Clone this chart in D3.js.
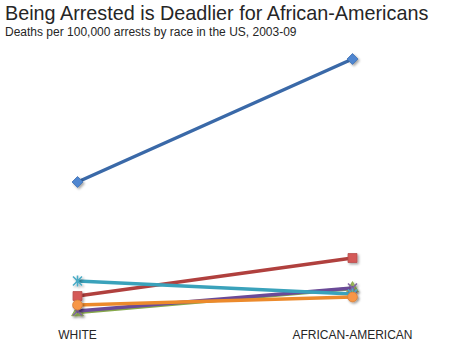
<!DOCTYPE html>
<html>
<head>
<meta charset="utf-8">
<script src="https://cdn.jsdelivr.net/npm/d3@7"></script>
<style>
  body { margin: 0; background: #fff; }
  text { font-family: "Liberation Sans", Arial, sans-serif; fill: #262626; }
</style>
</head>
<body>
<div id="chart"></div>
<script>
// categories and series (deaths per 100,000 arrests)
var categories = ["WHITE", "AFRICAN-AMERICAN"];
var seriesNames = ["Series 1", "Series 2", "Series 3", "Series 4", "Series 5", "Series 6"];
var seriesValues = [
    [6.9, 13.05],
    [1.2, 3.1],
    [0.38, 1.58],
    [0.45, 1.6],
    [1.95, 1.3],
    [0.75, 1.15]
];
var lineColors = ["#3a69a8", "#b0403e", "#86a84a", "#6a4a98", "#3aa2bb", "#ec8a2c"];
var markerColors = ["#4f86d0", "#d45a58", "#9bbb59", "#8064a2", "#4bacc6", "#f79646"];
var markerShapes = ["diamond", "square", "triangle", "x", "star", "circle"];

var width = 451, height = 354;

var svg = d3.select("#chart").append("svg")
    .attr("width", width)
    .attr("height", height);

// soft drop shadow for the markers
var filter = svg.append("defs").append("filter")
    .attr("id", "shadow")
    .attr("x", "-50%").attr("y", "-50%")
    .attr("width", "200%").attr("height", "200%");
filter.append("feDropShadow")
    .attr("dx", 1.5).attr("dy", 1.5)
    .attr("stdDeviation", 1)
    .attr("flood-color", "#000")
    .attr("flood-opacity", 0.35);

svg.append("text")
    .attr("x", 5).attr("y", 20)
    .style("font-size", "19.8px")
    .text("Being Arrested is Deadlier for African-Americans");

svg.append("text")
    .attr("x", 5).attr("y", 36)
    .style("font-size", "12px")
    .text("Deaths per 100,000 arrests by race in the US, 2003-09");

var x = d3.scalePoint().domain(categories).range([77.5, 352.5]);
var y = d3.scaleLinear().domain([0, 14]).range([320, 40]);

var line = d3.line()
    .x(function(d, i) { return x(categories[i]); })
    .y(function(d) { return y(d); });

var symbolTypes = {
    diamond: d3.symbolSquare,
    square: d3.symbolSquare,
    triangle: d3.symbolTriangle,
    circle: d3.symbolCircle
};

seriesValues.forEach(function(vals, s) {
    var g = svg.append("g").attr("class", "series");

    g.append("path")
        .datum(vals)
        .attr("d", line)
        .attr("fill", "none")
        .attr("stroke", lineColors[s])
        .attr("stroke-width", 3.5)
        .attr("stroke-linecap", "round");

    var m = g.selectAll(".marker")
        .data(vals)
        .enter().append("g")
        .attr("class", "marker")
        .attr("filter", "url(#shadow)")
        .attr("transform", function(d, i) {
            return "translate(" + x(categories[i]) + "," + y(d) + ")";
        });

    var shape = markerShapes[s];
    if (shape === "x" || shape === "star") {
        var r = 4.5;
        var segs = [[-r, -r, r, r], [-r, r, r, -r]];
        if (shape === "star") segs.push([0, -r - 1, 0, r + 1]);
        segs.forEach(function(sg) {
            m.append("line")
                .attr("x1", sg[0]).attr("y1", sg[1])
                .attr("x2", sg[2]).attr("y2", sg[3])
                .attr("stroke", markerColors[s])
                .attr("stroke-width", 1.6);
        });
    } else {
        var size = { diamond: 60, square: 80, triangle: 60, circle: 75 }[shape];
        m.append("path")
            .attr("d", d3.symbol().type(symbolTypes[shape]).size(size))
            .attr("transform", shape === "diamond" ? "rotate(45)" : null)
            .attr("fill", markerColors[s])
            .attr("stroke", d3.color(markerColors[s]).darker(0.4))
            .attr("stroke-width", 0.8);
    }
});

// category labels
svg.selectAll(".cat-label")
    .data(categories)
    .enter().append("text")
    .attr("class", "cat-label")
    .attr("x", function(d) { return x(d); })
    .attr("y", 339)
    .attr("text-anchor", "middle")
    .style("font-size", "12px")
    .text(function(d) { return d; });
</script>
</body>
</html>
